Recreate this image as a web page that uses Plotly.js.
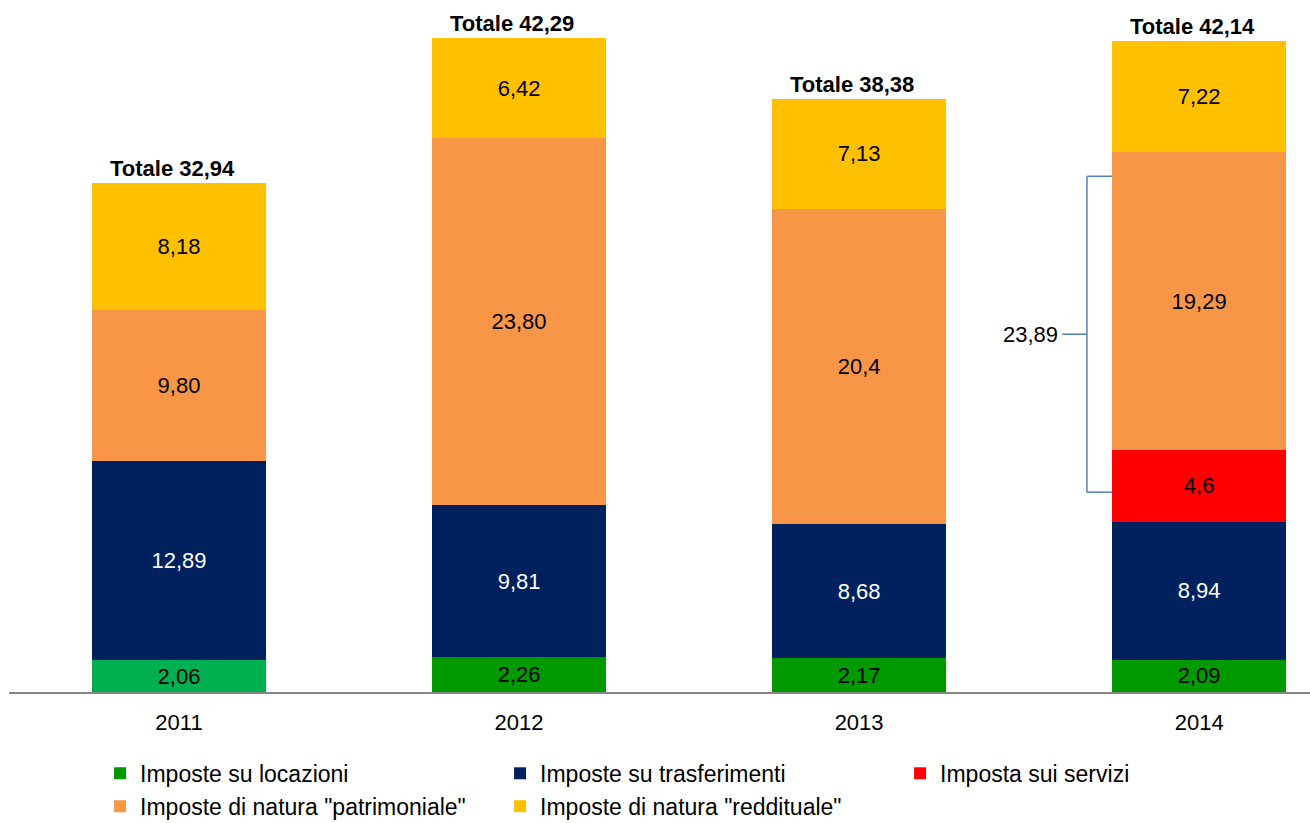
<!DOCTYPE html>
<html>
<head>
<meta charset="utf-8">
<script src="https://cdn.plot.ly/plotly-3.0.1.min.js"></script>
<style>html,body{margin:0;padding:0;background:#fff;}#chart{width:1310px;height:823px;}</style>
</head>
<body>
<div id="chart"></div>
<script>
const years = ['2011', '2012', '2013', '2014'];
const locazioni = [2.06, 2.26, 2.17, 2.09];
const trasferimenti = [12.89, 9.81, 8.68, 8.94];
const servizi = [null, null, null, 4.6];
const patrimoniale = [9.80, 23.80, 20.4, 19.29];
const reddituale = [8.18, 6.42, 7.13, 7.22];
const totali = [32.94, 42.29, 38.38, 42.14];
const locazioniLbl = ['2,06', '2,26', '2,17', '2,09'];
const trasferimentiLbl = ['12,89', '9,81', '8,68', '8,94'];
const serviziLbl = ['', '', '', '4,6'];
const patrimonialeLbl = ['9,80', '23,80', '20,4', '19,29'];
const redditualeLbl = ['8,18', '6,42', '7,13', '7,22'];
const totaliLbl = ['32,94', '42,29', '38,38', '42,14'];
const gruppo2014 = '23,89';

const FONT = 'Liberation Sans, Arial, sans-serif';
const BW = 0.512;
const idx = years.map((_, i) => i);
const locOrder = [1, 2, 3, 0];
const locColors = ['#00B050', '#009900', '#009900', '#009900'];

function barTrace(name, vals, lbls, color, txtColor, order) {
  const o = order || idx;
  return {
    type: 'bar', name: name,
    x: o, y: o.map(i => vals[i]), text: o.map(i => lbls[i]),
    width: BW,
    marker: {color: Array.isArray(color) ? o.map(i => color[i]) : color, line: {width: 0}},
    textposition: 'inside', insidetextanchor: 'middle', textangle: 0,
    constraintext: 'none',
    textfont: {family: FONT, size: 22, color: txtColor},
    hoverinfo: 'name+y'
  };
}

const data = [
  barTrace('Imposte su locazioni', locazioni, locazioniLbl, locColors, '#000', locOrder),
  barTrace('Imposte su trasferimenti', trasferimenti, trasferimentiLbl, '#00215E', '#fff'),
  barTrace('Imposta sui servizi', servizi, serviziLbl, '#FF0000', '#000'),
  barTrace('Imposte di natura "patrimoniale"', patrimoniale, patrimonialeLbl, '#F79646', '#000'),
  barTrace('Imposte di natura "reddituale"', reddituale, redditualeLbl, '#FFC000', '#000')
];

const annotations = idx.map(i => ({
  x: i, y: totali[i], xref: 'x', yref: 'y',
  text: '<b>Totale ' + totaliLbl[i] + '</b>',
  showarrow: false, yanchor: 'bottom', xanchor: 'center',
  xshift: -7, yshift: 0,
  font: {family: FONT, size: 22, color: '#000'}
}));

// bracket for 2014 (servizi + patrimoniale)
const b = 3;
const base14 = locazioni[b] + trasferimenti[b];
const top14 = base14 + servizi[b] + patrimoniale[b];
const yBot = base14 + 1.9;
const yTop = top14 - 1.55;
const yMid = (yBot + yTop) / 2;
const xEdge = b - BW / 2;
const xV = xEdge - 0.074;
const xL = xEdge - 0.147;
const bracketLine = {color: '#4F81BD', width: 1.5};
const shapes = [
  {type: 'line', xref: 'x', yref: 'y', x0: xV, x1: xEdge, y0: yTop, y1: yTop, line: bracketLine},
  {type: 'line', xref: 'x', yref: 'y', x0: xV, x1: xV, y0: yBot, y1: yTop, line: bracketLine},
  {type: 'line', xref: 'x', yref: 'y', x0: xV, x1: xEdge, y0: yBot, y1: yBot, line: bracketLine},
  {type: 'line', xref: 'x', yref: 'y', x0: xL, x1: xV, y0: yMid, y1: yMid, line: bracketLine}
];
annotations.push({
  x: xL, y: yMid, xref: 'x', yref: 'y', text: gruppo2014,
  showarrow: false, xanchor: 'right', yanchor: 'middle', xshift: -2,
  font: {family: FONT, size: 22, color: '#000'}
});

const layout = {
  width: 1310, height: 823,
  margin: {l: 9, r: 0, t: 12, b: 131, pad: 0, autoexpand: false},
  paper_bgcolor: '#fff', plot_bgcolor: '#fff',
  barmode: 'stack',
  font: {family: FONT, size: 22, color: '#000'},
  xaxis: {
    range: [-0.5, 3.326], tickvals: idx, ticktext: years,
    showline: true, linecolor: '#868686', linewidth: 1.5,
    showgrid: false, zeroline: false, ticks: '',
    ticklabelstandoff: 10,
    tickfont: {family: FONT, size: 22, color: '#000'}
  },
  yaxis: {
    range: [0, 44], visible: false, showgrid: false, zeroline: false
  },
  showlegend: true,
  legend: {
    orientation: 'h', traceorder: 'normal',
    x: 0.07, xanchor: 'left', y: -0.088, yanchor: 'top',
    entrywidth: 355, entrywidthmode: 'pixels',
    font: {family: FONT, size: 23, color: '#000'},
    bgcolor: 'rgba(0,0,0,0)'
  },
  annotations: annotations,
  shapes: shapes
};

Plotly.newPlot('chart', data, layout, {displayModeBar: false, staticPlot: true});
</script>
</body>
</html>
